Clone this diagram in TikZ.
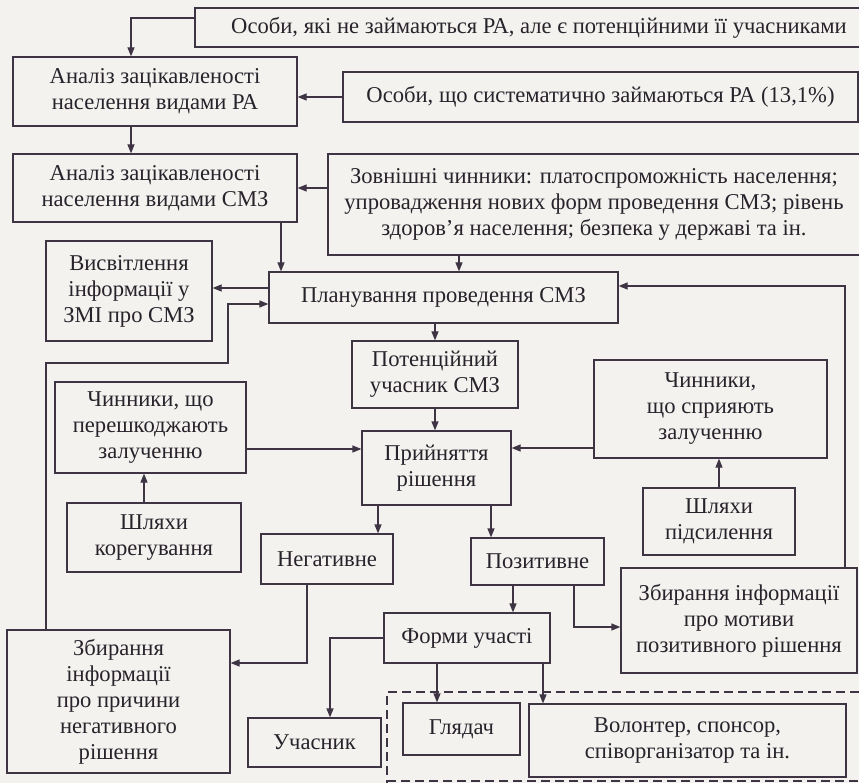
\documentclass[tikz,border=0pt]{standalone}
\usepackage{fontspec}
\setmainfont{Liberation Serif}
\usepackage{xcolor}
\usetikzlibrary{arrows.meta, calc}

\definecolor{papir}{RGB}{243,242,239}
\definecolor{linija}{RGB}{62,52,68}
\definecolor{tekst}{RGB}{40,35,43}

\begin{document}
\begin{tikzpicture}[x=1pt,y=-1pt,
    blok/.style={draw=linija, line width=1.2pt, fill=papir, align=center, inner sep=0pt,
      text=tekst, font=\fontsize{22.6}{26}\selectfont},
    strilka/.style={draw=linija, line width=1.2pt, -{Triangle[length=9pt,width=7pt]}},
    punktyr/.style={draw=linija, line width=1.2pt, dash pattern=on 9pt off 5pt}]
  \fill[papir] (0,0) rectangle (859,783);
  \useasboundingbox (0,0) rectangle (859,783);

  % upper part
  \node[blok, minimum width=688pt, minimum height=39pt] (top) at (539,27.5)
    {Особи, які не займаються РА, але є потенційними її учасниками};
  \node[blok, minimum width=284pt, minimum height=69pt] (anRA) at (155,91.5)
    {Аналіз зацікавленості\\населення видами РА};
  \node[blok, minimum width=515pt, minimum height=50pt] (sysRA) at (600.5,97)
    {Особи, що систематично займаються РА (13,1\%)};
  \node[blok, minimum width=284pt, minimum height=68pt] (anSMZ) at (155,188)
    {Аналіз зацікавленості\\населення видами СМЗ};
  \node[blok, minimum width=532pt, minimum height=101pt] (ext) at (594,204.5)
    {Зовнішні чинники: платоспроможність населення;\\упровадження нових форм проведення СМЗ; рівень\\здоров’я населення; безпека у державі та ін.};

  % middle part
  \node[blok, minimum width=166pt, minimum height=100pt] (media) at (129,291)
    {Висвітлення\\інформації у\\ЗМІ про СМЗ};
  \node[blok, minimum width=349pt, minimum height=51pt] (plan) at (443.5,297.5)
    {Планування проведення СМЗ};
  \node[blok, minimum width=166pt, minimum height=67pt] (pot) at (435,374.5)
    {Потенційний\\учасник СМЗ};
  \node[blok, minimum width=233pt, minimum height=98pt] (prom) at (710.5,409)
    {Чинники,\\що сприяють\\залученню};
  \node[blok, minimum width=191pt, minimum height=91pt] (hinder) at (150.5,427.5)
    {Чинники, що\\перешкоджають\\залученню};
  \node[blok, minimum width=149pt, minimum height=74pt] (dec) at (436.5,468)
    {Прийняття\\рішення};
  \node[blok, minimum width=174pt, minimum height=69pt] (corr) at (154,537.5)
    {Шляхи\\корегування};
  \node[blok, minimum width=152pt, minimum height=67pt] (amp) at (719,521.5)
    {Шляхи\\підсилення};
  \node[blok, minimum width=132pt, minimum height=50pt] (neg) at (327,559)
    {Негативне};
  \node[blok, minimum width=133pt, minimum height=47pt] (pos) at (537.5,561.5)
    {Позитивне};

  % lower part
  \node[blok, minimum width=236pt, minimum height=105pt] (posinfo) at (739,620.5)
    {Збирання інформації\\про мотиви\\позитивного рішення};
  \node[blok, minimum width=166pt, minimum height=50pt] (forms) at (467,638)
    {Форми участі};
  \node[blok, minimum width=223pt, minimum height=143pt] (neginfo) at (118.5,701.5)
    {Збирання\\інформації\\про причини\\негативного\\рішення};
  \node[blok, minimum width=133pt, minimum height=49pt] (part) at (314.5,742.5)
    {Учасник};
  \node[blok, minimum width=117pt, minimum height=52pt] (viewer) at (461.5,729)
    {Глядач};
  \node[blok, minimum width=317pt, minimum height=73pt] (vol) at (687.5,740.5)
    {Волонтер, спонсор,\\співорганізатор та ін.};

  \draw[punktyr] (859,692) -- (387,692) -- (387,783);
  \draw[punktyr, line width=2.4pt] (387,781) -- (859,781);

  % connectors
  \draw[strilka] ([yshift=9.5pt]top.west) -| ([xshift=-24pt]anRA.north);
  \draw[strilka] (sysRA.west) -- (sysRA.west -| anRA.east);
  \draw[strilka] ([xshift=-24pt]anRA.south) -- ([xshift=-24pt]anSMZ.north);
  \draw[strilka] (ext.west |- anSMZ.east) -- (anSMZ.east);
  \draw[strilka] ([xshift=126pt]anSMZ.south) -- ([xshift=126pt]anSMZ.south |- plan.north);
  \draw[strilka] ([xshift=-135pt]ext.south) -- ([xshift=-135pt]ext.south |- plan.north);
  \draw[strilka] ([yshift=9.5pt]plan.west) -- ([yshift=9.5pt]plan.west -| media.east);
  \coordinate (zlam) at (228,363);
  \draw[strilka] ([xshift=-72.5pt]neginfo.north) |- (zlam) |- ([yshift=-6.5pt]plan.west);
  \draw[strilka] (plan.south -| pot.north) -- (pot.north);
  \draw[strilka] (pot.south) -- (pot.south |- dec.north);
  \draw[strilka] ([yshift=-21.5pt]hinder.east) -- ([yshift=-21.5pt]hinder.east -| dec.west);
  \draw[strilka] ([xshift=-10pt]corr.north) -- ([xshift=-10pt]corr.north |- hinder.south);
  \draw[strilka] ([yshift=20pt]dec.east -| prom.west) -- ([yshift=20pt]dec.east);
  \draw[strilka] (amp.north) -- (amp.north |- prom.south);
  \draw[strilka] ([xshift=106pt]posinfo.north) |- ([yshift=11.5pt]plan.east);
  \draw[strilka] ([xshift=-58.5pt]dec.south) -- ([xshift=-58.5pt]dec.south |- neg.north);
  \draw[strilka] ([xshift=54.5pt]dec.south) -- ([xshift=54.5pt]dec.south |- pos.north);
  \draw[strilka] ([xshift=-24.5pt]pos.south) -- ([xshift=-24.5pt]pos.south |- forms.north);
  \draw[strilka] ([xshift=36.5pt]pos.south) |- ([yshift=-6.5pt]posinfo.west);
  \draw[strilka] ([xshift=-20pt]neg.south) |- ([yshift=38.5pt]neginfo.east);
  \draw[strilka] (forms.west) -| ([xshift=15.5pt]part.north);
  \draw[strilka] ([xshift=-30pt]forms.south) -- ([xshift=-30pt]forms.south |- viewer.north);
  \draw[strilka] ([xshift=76pt]forms.south) -- ([xshift=76pt]forms.south |- vol.north);
\end{tikzpicture}
\end{document}
